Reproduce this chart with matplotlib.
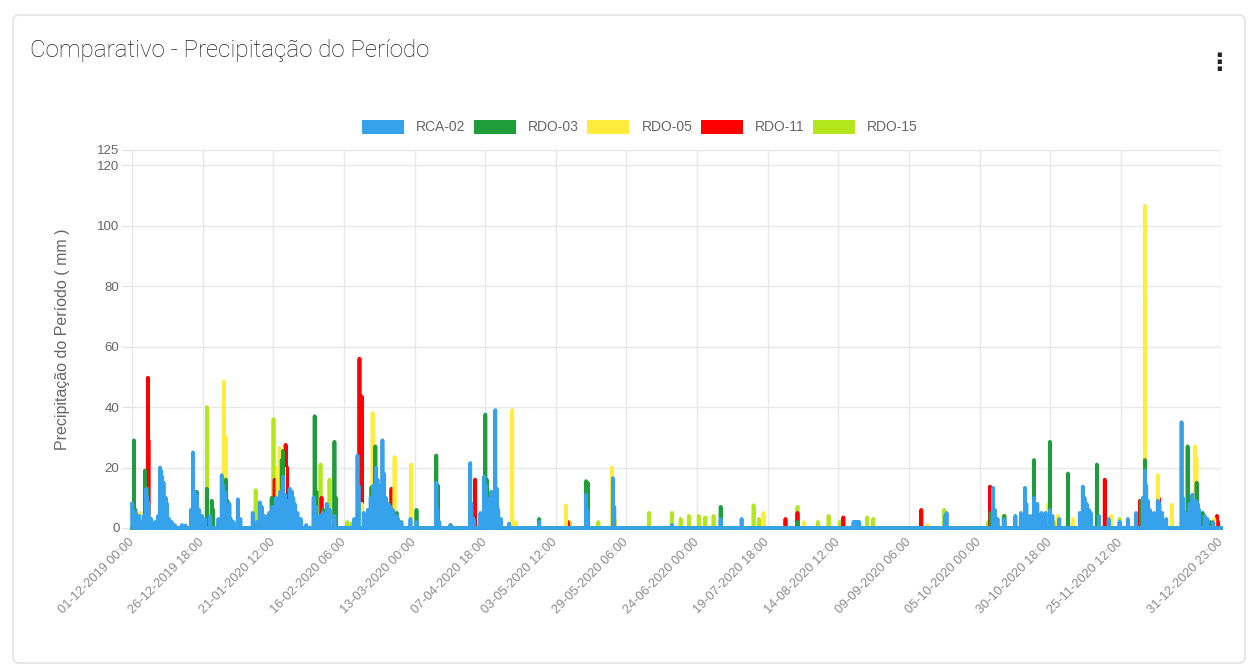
import numpy as np
import matplotlib.pyplot as plt
from matplotlib.patches import FancyBboxPatch, Patch
from matplotlib.transforms import IdentityTransform
from datetime import datetime

plt.rcParams['font.family'] = ['Liberation Sans', 'DejaVu Sans']
plt.rcParams['path.simplify'] = False

# Estações e cores
estacoes = ['RCA-02', 'RDO-03', 'RDO-05', 'RDO-11', 'RDO-15']
cores = ['#36a2eb', '#1f9d3b', '#ffec3d', '#ff0000', '#b3e61c']

inicio = '01-12-2019 00:00'
fim = '31-12-2020 23:00'

# Rótulos do eixo x (como aparecem no gráfico)
rotulos_x = ['01-12-2019 00:00', '26-12-2019 18:00', '21-01-2020 12:00', '16-02-2020 06:00',
             '13-03-2020 00:00', '07-04-2020 18:00', '03-05-2020 12:00', '29-05-2020 06:00',
             '24-06-2020 00:00', '19-07-2020 18:00', '14-08-2020 12:00', '09-09-2020 06:00',
             '05-10-2020 00:00', '30-10-2020 18:00', '25-11-2020 12:00', '31-12-2020 23:00']

# Picos de chuva: dias desde o início e precipitação (mm); resto do período = 0
rca02_dias = [0.0, 0.4, 1.0, 1.8, 2.6, 3.5, 5.2, 5.6, 6.0, 7.0, 10.2, 10.6, 11.0, 11.5, 12.3, 13.5,
              15.6, 18.2, 19.5, 22.2, 22.8, 23.6, 24.5, 26.5, 28.5, 32.7, 33.2, 34.0, 35.0, 36.0,
              38.6, 44.0, 46.6, 47.3, 48.5, 50.0, 51.2, 52.5, 54.0, 55.0, 57.5, 58.3, 59.3, 61.5,
              63.5, 66.2, 67.0, 69.5, 71.0, 72.0, 73.8, 82.2, 82.6, 87.0, 88.0, 89.0, 89.5, 90.2,
              91.3, 91.8, 92.5, 93.5, 95.0, 96.5, 98.0, 101.5, 103.7, 110.9, 111.3, 116.0, 123.3,
              123.7, 128.4, 129.0, 130.5, 132.4, 132.9, 133.5, 137.5, 148.4, 165.5, 166.0, 175.3,
              175.8, 196.8, 214.6, 222.2, 263.0, 263.6, 264.1, 264.6, 265.1, 296.4, 296.9, 313.9,
              314.5, 318.0, 322.0, 325.5, 326.0, 328.8, 329.4, 333.0, 334.6, 338.0, 346.6, 347.2,
              348.0, 352.5, 356.0, 360.0, 366.0, 369.2, 369.7, 370.3, 373.9, 374.5, 377.0, 382.6,
              383.0, 386.5, 387.8, 389.0, 392.0, 394.0]
rca02_mm = [8, 6, 4, 3, 4, 2, 13, 10, 8, 3, 20, 19, 17, 15, 10, 3,
            1, 1, 0.8, 25, 12, 11, 6, 3, 4, 17.5, 14, 10, 6, 3,
            9.5, 5, 8.5, 7, 4, 5, 7, 10, 12, 17, 13, 12, 8, 3,
            1, 10, 7, 5, 8, 6, 4, 24, 14, 10, 14, 20, 16, 12,
            29, 18, 10, 8, 6, 4, 2, 3, 2, 15, 6, 1, 21.5,
            8, 17, 14, 10, 39, 13, 6, 1.5, 2, 11, 6, 16.5,
            7, 1, 3, 3, 2, 2, 2, 2, 2, 4, 5, 13.3,
            6, 3, 4, 13.3, 8, 10, 6, 5, 6, 3, 13.7, 10,
            8, 4, 3, 2, 5, 19, 14, 9, 9, 8, 3, 35,
            10, 11, 9, 6, 3, 2]
# chuva fraca entre os picos do RCA-02
rca02_fraca_dias = [1.4, 2.2, 4.3, 8.5, 9.5, 12.8, 14.5, 21.5, 23.0, 25.5, 31.5, 33.8, 35.5, 37.0,
                    39.5, 45.5, 49.0, 52.0, 53.5, 55.8, 56.7, 58.8, 60.3, 68.5, 70.3, 81.0, 84.5,
                    86.0, 90.7, 94.2, 97.0, 111.8, 124.5, 127.0, 131.0, 131.7, 134.5, 315.5, 324.0,
                    327.5, 330.0, 331.5, 335.5, 345.5, 348.8, 349.5, 363.0, 368.5, 371.0, 372.5,
                    375.5, 384.0, 385.5, 388.5, 391.0]
rca02_fraca_mm = [5, 3, 4, 2, 4, 8, 2, 6, 10, 4, 3, 12, 8, 2,
                  3, 2, 3, 6, 8, 11, 9, 10, 5, 4, 3, 3, 5,
                  6, 14, 7, 3, 2, 3, 5, 12, 10, 3, 3, 5,
                  4, 8, 5, 4, 5, 6, 5, 3, 10, 6, 5,
                  5, 5, 8, 8, 4]

rdo03_dias = [0.7, 1.2, 4.7, 5.5, 12.0, 23.6, 27.3, 29.1, 29.6, 34.2, 34.8, 50.9, 54.6, 55.0, 56.5,
              61.1, 66.6, 67.2, 69.8, 73.8, 74.3, 87.3, 88.7, 89.3, 93.5, 96.5, 103.7, 110.9, 111.5,
              112.0, 116.2, 128.8, 129.3, 148.4, 165.5, 166.1, 214.6, 242.6, 313.0, 318.0, 328.8,
              334.6, 341.2, 351.7, 367.8, 369.2, 374.0, 384.8, 388.1, 390.3, 393.0]
rdo03_mm = [29, 6, 19, 13, 10, 12, 13, 9, 6, 16, 9, 10, 22.5, 25.5, 9,
            1, 37, 12, 6, 28.5, 10, 13.5, 27, 16, 8, 5, 6, 24, 14,
            2, 1, 37.5, 16, 3, 15.5, 15, 7, 2, 5, 4, 22.5,
            28.5, 18, 21, 9, 22.5, 5, 27, 15, 5, 2]

rdo05_dias = [3.0, 6.5, 8.0, 33.5, 34.2, 53.1, 53.8, 55.3, 57.0, 83.7, 87.7, 95.7, 101.8, 138.6,
              140.0, 158.2, 174.9, 176.0, 230.2, 245.0, 290.0, 317.5, 334.0, 337.5, 343.0, 357.0,
              369.2, 373.9, 379.0, 387.4, 388.0, 394.5]
rdo05_mm = [5, 4, 2, 48.5, 30, 20, 26.5, 20, 6, 8, 38, 23.5, 21, 39,
            2, 7.5, 20, 3, 5, 2, 1, 4, 8, 4, 3, 4,
            106.5, 17.5, 7.7, 27, 23, 3]

rdo11_dias = [5.8, 6.0, 52.0, 56.0, 56.5, 69.1, 82.9, 83.7, 94.6, 125.1, 129.5, 158.8, 238.2,
              242.6, 259.3, 287.7, 312.8, 317.8, 354.6, 367.4, 368.0, 374.2, 395.0, 395.5, 395.9]
rdo11_mm = [49.7, 29, 16, 27.5, 20, 10, 56, 43.5, 13, 16, 13, 2, 3,
            5, 3.5, 6, 13.7, 4, 16, 9, 7, 10, 3, 4, 2]

rdo15_dias = [2.0, 27.3, 45.1, 51.6, 53.3, 68.7, 72.0, 78.5, 80.0, 98.5, 159.5, 170.0, 188.4,
              196.8, 200.0, 203.0, 206.6, 209.0, 212.0, 226.6, 228.5, 242.6, 250.0, 253.9, 258.0,
              268.0, 270.2, 296.0, 312.0, 322.0, 327.0, 336.0, 360.0]
rdo15_mm = [3, 40, 12.5, 36, 20, 21, 16, 2, 1.5, 2, 2, 2, 5,
            5, 3, 4, 4, 3.5, 4, 7.5, 3, 7, 2, 4, 2,
            3.5, 3, 6, 2, 3, 4, 2, 3]

picos = [(rca02_dias + rca02_fraca_dias, rca02_mm + rca02_fraca_mm),
         (rdo03_dias, rdo03_mm), (rdo05_dias, rdo05_mm),
         (rdo11_dias, rdo11_mm), (rdo15_dias, rdo15_mm)]

# Série horária
fmt = '%d-%m-%Y %H:%M'
t0 = datetime.strptime(inicio, fmt)
n_horas = int((datetime.strptime(fim, fmt) - t0).total_seconds() // 3600) + 1
horas = np.arange(n_horas)
pos_x = [(datetime.strptime(r, fmt) - t0).total_seconds() / 3600 for r in rotulos_x]

series = []
for dias, mm in picos:
    y = np.zeros(n_horas)
    idx = np.clip(np.round(np.array(dias) * 24).astype(int), 0, n_horas - 1)
    y[idx] = mm
    series.append(y)

fig = plt.figure(figsize=(12.5, 6.68), dpi=100)

# Cartão
card = FancyBboxPatch((13, 5), 1232, 648, boxstyle='round,pad=0,rounding_size=6',
                      transform=IdentityTransform(), facecolor='white',
                      edgecolor='#e3e3e3', linewidth=1.2, zorder=-10)
fig.patches.append(card)

ax = fig.add_axes([132 / 1250, 1 - 528 / 668, 1089 / 1250, 378 / 668])
ax.patch.set_alpha(0)

# primeira série fica por cima (como no Chart.js)
for nome, cor, y in reversed(list(zip(estacoes, cores, series))):
    ax.fill_between(horas, y, 0, color=cor, linewidth=0)
    ax.plot(horas, y, color=cor, linewidth=2.7, solid_joinstyle='round', clip_on=False)

ax.set_xlim(0, n_horas - 1)
ax.set_ylim(0, 125)
ax.set_yticks([0, 20, 40, 60, 80, 100, 120, 125])
ax.set_xticks(pos_x)
ax.set_xticklabels(rotulos_x, rotation=45, ha='right', va='center', rotation_mode='anchor')

for s in ax.spines.values():
    s.set_visible(False)
ax.grid(True, color='#e8e8e8', linewidth=1)
ax.set_axisbelow(True)
ax.tick_params(axis='y', length=7, color='#e0e0e0', labelcolor='#666666', labelsize=9.5, pad=2)
ax.tick_params(axis='x', length=0, labelcolor='#8a8a8a', labelsize=9.2, pad=9)

ax.set_ylabel('Precipitação do Período ( mm )', fontsize=11.5, color='#666666')
ax.yaxis.set_label_coords(-62 / 1089, 0.5)

# Legenda
handles = [Patch(facecolor=c, edgecolor='none') for c in cores]
fig.legend(handles, estacoes, loc='center', bbox_to_anchor=(640 / 1250, 1 - 127 / 668),
           ncol=5, frameon=False, fontsize=10, handlelength=3.0, handleheight=1.2,
           handletextpad=0.9, columnspacing=0.6, labelcolor='#666666')

fig.text(30 / 1250, 1 - 50 / 668, 'Comparativo - Precipitação do Período', fontsize=17.4,
         family=['Roboto', 'DejaVu Sans'], fontweight='light', color='#222222', va='center')
fig.text(1219 / 1250, 1 - 63 / 668, '⋮', fontsize=17, fontweight='bold', color='#222222',
         ha='center', va='center', family='DejaVu Sans')

fig.savefig('out.png', dpi=100)
